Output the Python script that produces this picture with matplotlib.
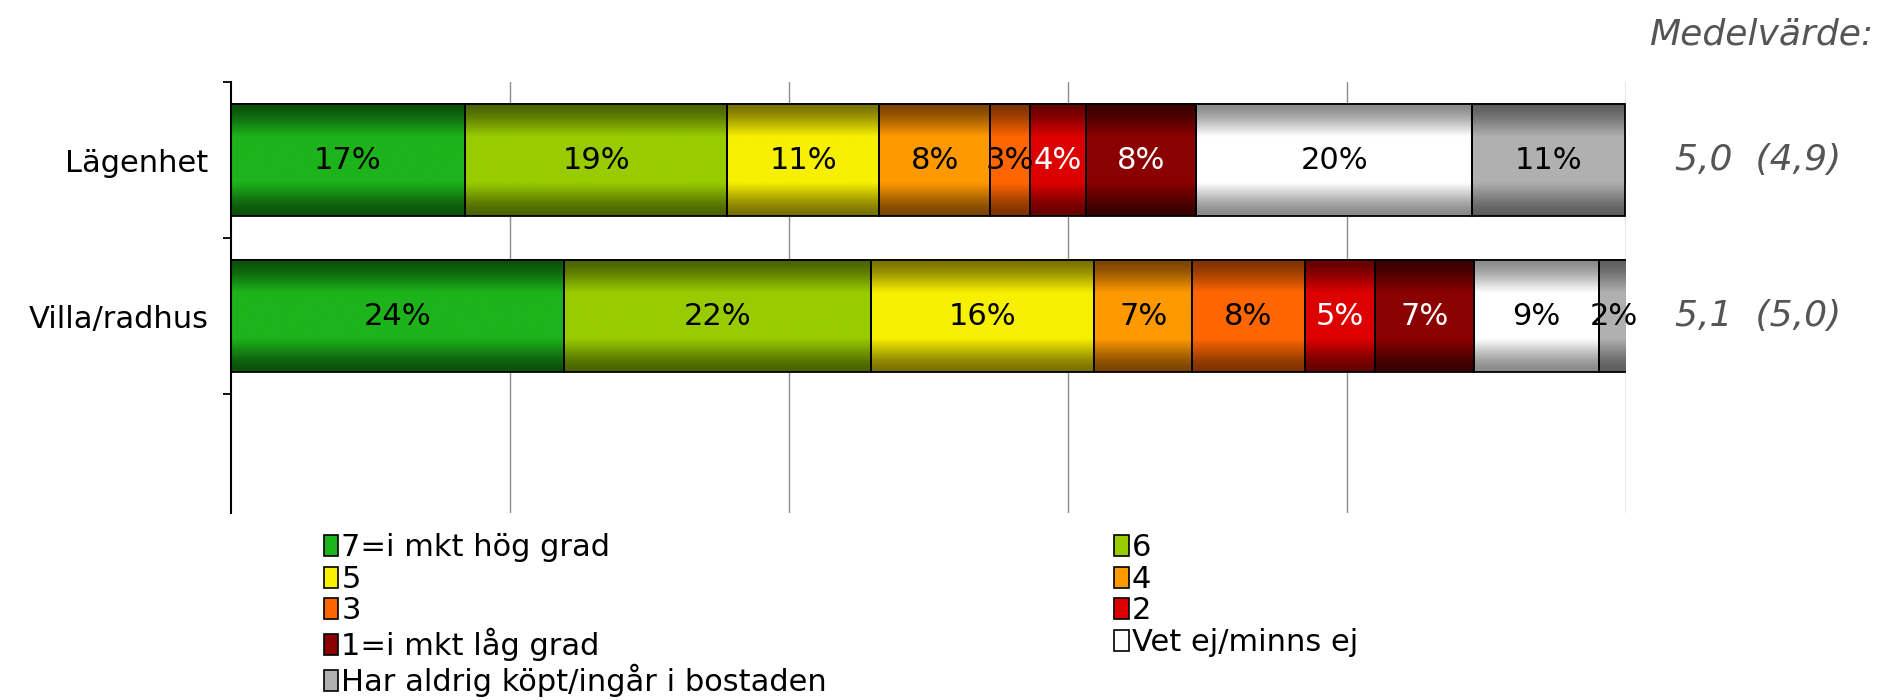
import numpy as np
import matplotlib
matplotlib.use("Agg")
import matplotlib.pyplot as plt
from matplotlib.patches import Patch
from matplotlib.transforms import blended_transform_factory

plt.rcParams['font.family'] = ['DejaVu Sans']

# data
groups = ['Lägenhet', 'Villa/radhus']
answers = ['7=i mkt hög grad', '6', '5', '4', '3', '2', '1=i mkt låg grad',
           'Vet ej/minns ej', 'Har aldrig köpt/ingår i bostaden']
lagenhet = [16.8, 18.8, 10.9, 7.9, 2.9, 4.0, 7.9, 19.8, 10.9]
villa = [23.9, 22.0, 16.0, 7.0, 8.1, 5.0, 7.1, 9.0, 2.0]
means = ['5,0  (4,9)', '5,1  (5,0)']

# colours: (middle, edge) of the vertical gradient
mid_cols = ['#1db31a', '#99cc00', '#f7f000', '#ff9900', '#ff6600',
            '#dd0000', '#8b0000', '#ffffff', '#b0b0b0']
edge_cols = ['#0b500b', '#4a6300', '#7a7200', '#7a4400', '#7f3300',
             '#660000', '#3a0000', '#8a8a8a', '#5e5e5e']
txt_cols = ['black'] * 5 + ['white', 'white'] + ['black', 'black']

values = [lagenhet, villa]
bar_h = 0.72


def gradient(mid, edge, n=64):
    m = np.array(matplotlib.colors.to_rgb(mid))
    e = np.array(matplotlib.colors.to_rgb(edge))
    t = np.linspace(0, 1, n)
    prof = np.clip(np.sin(np.pi * t) * 1.25, 0, 1) ** 1.6
    return (e[None, :] + (m - e)[None, :] * prof[:, None])[:, None, :]


fig = plt.figure(figsize=(18.83, 7.0), dpi=100)
ax = fig.add_axes([0.1225, 0.267, 0.741, 0.616])

for yi, row in enumerate(values):
    left = 0
    for k, v in enumerate(row):
        ax.imshow(gradient(mid_cols[k], edge_cols[k]), aspect='auto',
                  extent=[left, left + v, yi + bar_h / 2, yi - bar_h / 2],
                  interpolation='bilinear', zorder=2)
        ax.barh(yi, v, left=left, height=bar_h, color='none',
                edgecolor='black', linewidth=1.3, zorder=3)
        ax.text(left + v / 2, yi, '%d%%' % round(v), ha='center', va='center',
                fontsize=22, color=txt_cols[k], zorder=4)
        left += v

ax.set_xlim(0, 100)
ax.set_ylim(2.26, -0.5)
ax.set_xticks([20, 40, 60, 80, 100])
ax.xaxis.grid(True, color='#8c8c8c', linewidth=1.0, zorder=0)
ax.tick_params(axis='x', length=0, labelbottom=False)
ax.set_yticks([0, 1])
ax.set_yticklabels(groups, fontsize=22)
ax.tick_params(axis='y', which='major', length=0, pad=16)
ax.set_yticks([-0.5, 0.5, 1.5], minor=True)
ax.tick_params(axis='y', which='minor', length=6, width=1.3)
for s in ['top', 'right', 'bottom']:
    ax.spines[s].set_visible(False)
ax.spines['left'].set_linewidth(1.5)
ax.set_axisbelow(True)

tr = blended_transform_factory(ax.transAxes, ax.transData)
for yi, m in enumerate(means):
    ax.text(1.035, yi, m, transform=tr, ha='left', va='center',
            fontsize=26, style='italic', color='#555555')
fig.text(0.995, 0.951, 'Medelvärde:', ha='right', va='center',
         fontsize=26, style='italic', color='#555555')

# legend, reordered so it reads row by row
handles = [Patch(facecolor=mid_cols[k], edgecolor='black', linewidth=1.2)
           for k in range(len(answers))]
order = [0, 2, 4, 6, 8, 1, 3, 5, 7]
fig.legend([handles[k] for k in order], [answers[k] for k in order],
           ncol=2, loc='upper left', bbox_to_anchor=(0.172, 0.238),
           frameon=False, fontsize=22, handlelength=0.47, handleheight=0.68,
           handletextpad=0.1, labelspacing=0.08, columnspacing=9.4,
           borderaxespad=0, borderpad=0)

fig.savefig('out.png', dpi=100)
